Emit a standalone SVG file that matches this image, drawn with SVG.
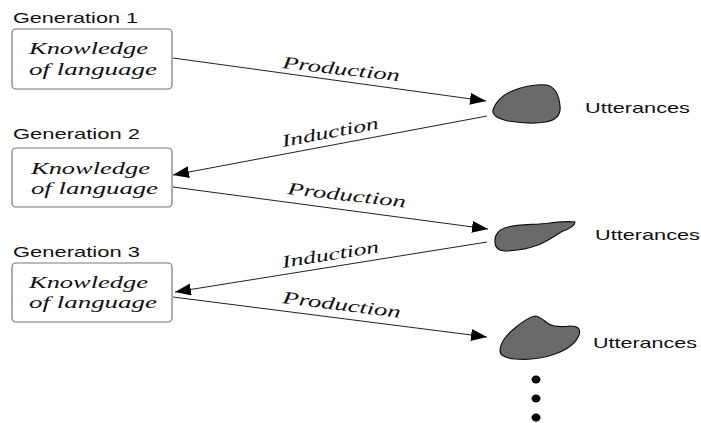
<svg xmlns="http://www.w3.org/2000/svg" width="701" height="423" viewBox="0 0 701 423">
<defs>
<style>
.gen{font-family:"Liberation Sans",Arial,sans-serif;font-size:15px;fill:#111}
.utt{font-family:"Liberation Sans",Arial,sans-serif;font-size:15px;fill:#111}
.kn{font-family:"Liberation Serif","Times New Roman",serif;font-style:italic;font-size:17px;fill:#111}
.lab{font-family:"Liberation Serif","Times New Roman",serif;font-style:italic;font-size:17.5px;fill:#111}
.box{fill:#fff;stroke:#777;stroke-width:1.2}
.blob{fill:#6a6a6a;stroke:#111;stroke-width:1.2}
.conn{fill:none;stroke:#222;stroke-width:1}
</style>
<marker id="arr" markerUnits="userSpaceOnUse" markerWidth="17" markerHeight="12" refX="16" refY="6" orient="auto">
<path d="M0,0 L16,6 L0,12 z" fill="#000"/>
</marker>
</defs>
<rect width="701" height="423" fill="#fff"/>

<g id="gen1">
<text class="gen" x="13" y="23" textLength="125" lengthAdjust="spacingAndGlyphs">Generation 1</text>
<rect class="box" x="12" y="29" width="160" height="60" rx="4"/>
<text class="kn" x="29" y="54" textLength="119" lengthAdjust="spacingAndGlyphs">Knowledge</text>
<text class="kn" x="29" y="75" textLength="128" lengthAdjust="spacingAndGlyphs">of language</text>
</g>

<g id="gen2">
<text class="gen" x="13" y="139" textLength="127" lengthAdjust="spacingAndGlyphs">Generation 2</text>
<rect class="box" x="12" y="148" width="160" height="59" rx="4"/>
<text class="kn" x="31" y="174" textLength="119" lengthAdjust="spacingAndGlyphs">Knowledge</text>
<text class="kn" x="31" y="194" textLength="127" lengthAdjust="spacingAndGlyphs">of language</text>
</g>

<g id="gen3">
<text class="gen" x="13" y="257" textLength="127" lengthAdjust="spacingAndGlyphs">Generation 3</text>
<rect class="box" x="12" y="263" width="160" height="59" rx="4"/>
<text class="kn" x="29" y="288" textLength="119" lengthAdjust="spacingAndGlyphs">Knowledge</text>
<text class="kn" x="29" y="308" textLength="128" lengthAdjust="spacingAndGlyphs">of language</text>
</g>

<g id="utt1">
<path class="blob" d="M493,110 C496,101 503,95 512,91 C522,87 536,84 547,85 C555,87 559,96 560,106 C561,115 556,120 546,122 C534,124 520,123 508,121 C499,119 492,116 493,110 Z"/>
<text class="utt" x="585" y="113" textLength="105" lengthAdjust="spacingAndGlyphs">Utterances</text>
</g>

<g id="utt2">
<path class="blob" d="M495,242 C494,235 499,229 508,227 C520,224 535,225 550,223 C560,222 568,221 575,222 C575,225 570,229 563,231 C556,235 548,241 538,245 C527,249 515,251 504,251 C497,250 495,247 495,242 Z"/>
<text class="utt" x="595" y="240" textLength="105" lengthAdjust="spacingAndGlyphs">Utterances</text>
</g>

<g id="utt3">
<path class="blob" d="M500,351 C500,343 507,334 515,328 C522,322 530,317 535,316 C540,316 544,321 549,324 C554,327 562,327 570,326 C578,326 581,329 579,335 C576,343 566,350 555,354 C544,358 528,360 515,359 C505,358 500,355 500,351 Z"/>
<text class="utt" x="593" y="348" textLength="104" lengthAdjust="spacingAndGlyphs">Utterances</text>
</g>

<g id="ellipsis">
<ellipse cx="536" cy="379.5" rx="4.5" ry="4" fill="#000"/>
<ellipse cx="536" cy="398.5" rx="4.5" ry="4" fill="#000"/>
<ellipse cx="536" cy="417.5" rx="4.5" ry="4" fill="#000"/>
</g>

<g id="connectors">
<line class="conn" x1="173" y1="58" x2="486" y2="101" marker-end="url(#arr)"/>
<line class="conn" x1="487" y1="116" x2="173" y2="175" marker-end="url(#arr)"/>
<line class="conn" x1="173" y1="187" x2="488" y2="229" marker-end="url(#arr)"/>
<line class="conn" x1="487" y1="242" x2="175" y2="292" marker-end="url(#arr)"/>
<line class="conn" x1="173" y1="297" x2="487" y2="337" marker-end="url(#arr)"/>
<text class="lab" transform="translate(282,68) rotate(6.5)" textLength="118" lengthAdjust="spacingAndGlyphs">Production</text>
<text class="lab" transform="translate(283,147) rotate(-10.8)" textLength="98" lengthAdjust="spacingAndGlyphs">Induction</text>
<text class="lab" transform="translate(287,194) rotate(6.5)" textLength="119" lengthAdjust="spacingAndGlyphs">Production</text>
<text class="lab" transform="translate(283,268) rotate(-9.3)" textLength="98" lengthAdjust="spacingAndGlyphs">Induction</text>
<text class="lab" transform="translate(282,303) rotate(7.2)" textLength="119" lengthAdjust="spacingAndGlyphs">Production</text>
</g>
</svg>
